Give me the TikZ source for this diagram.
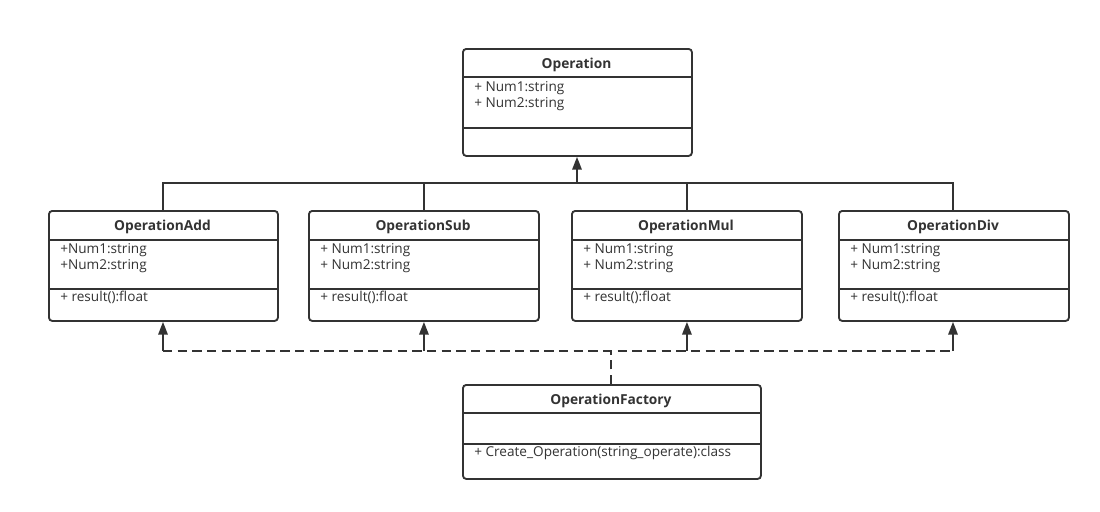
\documentclass[tikz,border=0pt]{standalone}
\usepackage{fontspec}
\setmainfont{Open Sans}
\usetikzlibrary{arrows.meta}
\definecolor{ink}{HTML}{333333}
\begin{document}
\begin{tikzpicture}[x=0.75pt,y=-0.75pt,
  cls/.style={draw=ink,line width=1.4pt,rounded corners=2.5pt,anchor=north west,inner sep=0pt,fill=white},
  ttl/.style={font=\fontsize{10.3}{12}\selectfont\bfseries,text=ink,anchor=center},
  mem/.style={font=\fontsize{10.2}{12}\selectfont,text=ink,anchor=north west,align=left,inner sep=0pt},
  sep/.style={draw=ink,line width=1.4pt},
  conn/.style={draw=ink,line width=1.4pt},
  dep/.style={draw=ink,line width=1.4pt,dash pattern=on 7pt off 4pt},
  tip/.style={-{Triangle[length=9.5pt,width=7pt]}}
]
\useasboundingbox (0,0) rectangle (1100,511);
% boxes
\node[cls,minimum width=229*0.75pt,minimum height=107*0.75pt] (op) at (462,48) {};
\node[cls,minimum width=229*0.75pt,minimum height=110*0.75pt] (add) at (48,210) {};
\node[cls,minimum width=230*0.75pt,minimum height=110*0.75pt] (sub) at (308,210) {};
\node[cls,minimum width=230*0.75pt,minimum height=110*0.75pt] (mul) at (571,210) {};
\node[cls,minimum width=230*0.75pt,minimum height=110*0.75pt] (div) at (838,210) {};
\node[cls,minimum width=298*0.75pt,minimum height=94*0.75pt] (fac) at (462,384) {};
% separators
\draw[sep] (462,77) -- (691,77) (462,128) -- (691,128);
\foreach \a/\b in {48/277,308/538,571/801,838/1068}{
  \draw[sep] (\a,240) -- (\b,240) (\a,289) -- (\b,289);
}
\draw[sep] (462,413) -- (760,413) (462,444) -- (760,444);
% titles
\node[ttl] (opT) at (576.5,64.5) {Operation};
\node[ttl] (addT) at (162.5,226.5) {OperationAdd};
\node[ttl] (subT) at (423,226.5) {OperationSub};
\node[ttl] (mulT) at (686,226.5) {OperationMul};
\node[ttl] (divT) at (953,226.5) {OperationDiv};
\node[ttl] (facT) at (611,400.5) {OperationFactory};
% members
\node[mem] (opA) at (474,81.5) {+ Num1:string\\+ Num2:string};
\node[mem] (addA) at (60,243.5) {+Num1:string\\+Num2:string};
\node[mem] (addM) at (60,291) {+ result():float};
\node[mem] (subA) at (320,243.5) {+ Num1:string\\+ Num2:string};
\node[mem] (subM) at (320,291) {+ result():float};
\node[mem] (mulA) at (583,243.5) {+ Num1:string\\+ Num2:string};
\node[mem] (mulM) at (583,291) {+ result():float};
\node[mem] (divA) at (850,243.5) {+ Num1:string\\+ Num2:string};
\node[mem] (divM) at (850,291) {+ result():float};
\node[mem] (facM) at (474,446) {+ Create\_Operation(string\_operate):class};
% inheritance
\coordinate (hl) at (163,183);
\coordinate (hr) at (953,183);
\coordinate (hj) at (577,183);
\draw[conn] (add.north -| hl) -- (hl) -- (hr) -- (div.north -| hr);
\draw[conn] (sub.north) -- (sub.north |- hl);
\draw[conn] (mul.north) -- (mul.north |- hl);
\draw[conn,tip] (hj) -- (hj |- op.south);
% dependency
\coordinate (dl) at (163,351);
\coordinate (dr) at (953,351);
\coordinate (dj) at (611,351);
\draw[dep] (dl) -- (dr);
\draw[dep] (fac.north -| dj) -- (dj);
\draw[conn,tip] (dl) -- (dl |- add.south);
\draw[conn,tip] (sub.south |- dl) -- (sub.south);
\draw[conn,tip] (mul.south |- dl) -- (mul.south);
\draw[conn,tip] (dr) -- (dr |- div.south);
\end{tikzpicture}
\end{document}
